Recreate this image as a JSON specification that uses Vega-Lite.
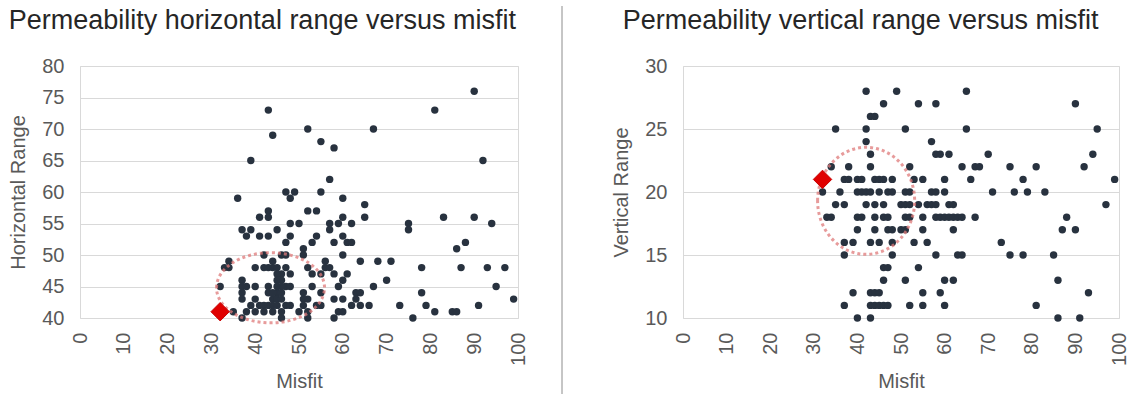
{
  "$schema": "https://vega.github.io/schema/vega-lite/v6.json",
  "background": "white",
  "padding": {"left": 8, "top": 5, "right": 5, "bottom": 0},
  "spacing": 32,
  "config": {
    "font": "Liberation Sans",
    "view": {"stroke": "#d9d9d9"},
    "axis": {
      "labelFont": "Liberation Sans", "labelFontSize": 20, "labelColor": "#595959",
      "titleFont": "Liberation Sans", "titleFontSize": 20, "titleFontWeight": "normal", "titleColor": "#595959",
      "domain": false, "ticks": false, "gridColor": "#d9d9d9",
      "labelFlush": false, "labelOverlap": false
    },
    "axisX": {"grid": false, "labelAngle": 270, "labelPadding": 14, "titlePadding": 6},
    "axisY": {"grid": true, "labelPadding": 16, "titlePadding": 13},
    "title": {"font": "Liberation Sans", "fontSize": 27, "fontWeight": "normal", "color": "#262626", "anchor": "start", "offset": 21}
  },
  "datasets": {
    "horizontal": [
      {"misfit":43,"range":73},{"misfit":44,"range":69},{"misfit":90,"range":76},{"misfit":81,"range":73},{"misfit":52,"range":70},{"misfit":67,"range":70},{"misfit":55,"range":68},{"misfit":58,"range":67},{"misfit":39,"range":65},{"misfit":92,"range":65},
      {"misfit":57,"range":62},{"misfit":36,"range":59},{"misfit":47,"range":60},{"misfit":49,"range":60},{"misfit":48,"range":59},{"misfit":55,"range":60},{"misfit":60,"range":59},{"misfit":65,"range":58},{"misfit":65,"range":56},{"misfit":43,"range":57},
      {"misfit":41,"range":56},{"misfit":43,"range":56},{"misfit":52,"range":57},{"misfit":54,"range":57},{"misfit":83,"range":56},{"misfit":90,"range":56},{"misfit":60,"range":56},{"misfit":59,"range":55},{"misfit":57,"range":55},{"misfit":57,"range":54},
      {"misfit":62,"range":55},{"misfit":75,"range":55},{"misfit":75,"range":54},{"misfit":94,"range":55},{"misfit":48,"range":55},{"misfit":50,"range":55},{"misfit":37,"range":54},{"misfit":39,"range":54},{"misfit":38,"range":53},{"misfit":41,"range":53},
      {"misfit":43,"range":53},{"misfit":45,"range":54},{"misfit":48,"range":53},{"misfit":47,"range":52},{"misfit":54,"range":53},{"misfit":53,"range":52},{"misfit":60,"range":53},{"misfit":61,"range":52},{"misfit":62,"range":52},{"misfit":58,"range":52},
      {"misfit":88,"range":52},{"misfit":86,"range":51},{"misfit":51,"range":51},{"misfit":51,"range":50},{"misfit":42,"range":50},{"misfit":46,"range":50},{"misfit":47,"range":50},{"misfit":60,"range":50},{"misfit":34,"range":49},{"misfit":33,"range":48},
      {"misfit":34,"range":48},{"misfit":40,"range":48},{"misfit":42,"range":48},{"misfit":43,"range":48},{"misfit":44,"range":48},{"misfit":44,"range":49},{"misfit":45,"range":48},{"misfit":47,"range":48},{"misfit":46,"range":47},{"misfit":48,"range":47},
      {"misfit":52,"range":48},{"misfit":53,"range":47},{"misfit":55,"range":47},{"misfit":56,"range":49},{"misfit":56,"range":48},{"misfit":57,"range":48},{"misfit":58,"range":47},{"misfit":64,"range":49},{"misfit":68,"range":49},{"misfit":71,"range":49},
      {"misfit":78,"range":48},{"misfit":87,"range":48},{"misfit":93,"range":48},{"misfit":97,"range":48},{"misfit":70,"range":46},{"misfit":67,"range":45},{"misfit":60,"range":46},{"misfit":59,"range":45},{"misfit":61,"range":47},{"misfit":95,"range":45},
      {"misfit":32,"range":45},{"misfit":37,"range":46},{"misfit":37,"range":45},{"misfit":38,"range":45},{"misfit":40,"range":45},{"misfit":43,"range":45},{"misfit":46,"range":46},{"misfit":47,"range":45},{"misfit":48,"range":45},{"misfit":46,"range":45},
      {"misfit":53,"range":45},{"misfit":55,"range":44},{"misfit":37,"range":44},{"misfit":37,"range":43},{"misfit":40,"range":43},{"misfit":43,"range":44},{"misfit":44,"range":43},{"misfit":45,"range":44},{"misfit":45,"range":43},{"misfit":46,"range":44},
      {"misfit":51,"range":44},{"misfit":51,"range":43},{"misfit":52,"range":43},{"misfit":58,"range":43},{"misfit":60,"range":43},{"misfit":63,"range":44},{"misfit":63,"range":43},{"misfit":64,"range":44},{"misfit":78,"range":44},{"misfit":99,"range":43},
      {"misfit":64,"range":42},{"misfit":62,"range":42},{"misfit":66,"range":42},{"misfit":73,"range":42},{"misfit":79,"range":42},{"misfit":91,"range":42},{"misfit":39,"range":42},{"misfit":41,"range":42},{"misfit":42,"range":42},{"misfit":43,"range":42},
      {"misfit":44,"range":42},{"misfit":45,"range":42},{"misfit":47,"range":42},{"misfit":48,"range":42},{"misfit":51,"range":42},{"misfit":54,"range":42},{"misfit":55,"range":42},{"misfit":35,"range":41},{"misfit":38,"range":41},{"misfit":40,"range":41},
      {"misfit":42,"range":41},{"misfit":44,"range":41},{"misfit":46,"range":41},{"misfit":50,"range":41},{"misfit":52,"range":41},{"misfit":59,"range":41},{"misfit":60,"range":41},{"misfit":81,"range":41},{"misfit":85,"range":41},{"misfit":86,"range":41},
      {"misfit":37,"range":40},{"misfit":46,"range":40},{"misfit":52,"range":40},{"misfit":58,"range":40},{"misfit":76,"range":40},{"misfit":45,"range":47},{"misfit":45,"range":46},{"misfit":44,"range":44},{"misfit":46,"range":43},{"misfit":45,"range":45}
    ],
    "horizontalCluster": [{"misfit": 43.5, "range": 44.8}],
    "horizontalBest": [{"misfit": 32, "range": 41}],
    "vertical": [
      {"misfit":42,"range":28},{"misfit":49,"range":28},{"misfit":65,"range":28},
      {"misfit":46,"range":27},{"misfit":54,"range":27},{"misfit":58,"range":27},{"misfit":90,"range":27},
      {"misfit":43,"range":26},{"misfit":44,"range":26},
      {"misfit":35,"range":25},{"misfit":42,"range":25},{"misfit":51,"range":25},{"misfit":65,"range":25},{"misfit":95,"range":25},
      {"misfit":42,"range":24},{"misfit":57,"range":24},
      {"misfit":43,"range":23},{"misfit":58,"range":23},{"misfit":59,"range":23},{"misfit":61,"range":23},{"misfit":70,"range":23},{"misfit":94,"range":23},
      {"misfit":34,"range":22},{"misfit":38,"range":22},{"misfit":43,"range":22},{"misfit":52,"range":22},{"misfit":64,"range":22},{"misfit":67,"range":22},{"misfit":68,"range":22},{"misfit":75,"range":22},{"misfit":81,"range":22},{"misfit":92,"range":22},
      {"misfit":37,"range":21},{"misfit":38,"range":21},{"misfit":40,"range":21},{"misfit":41,"range":21},{"misfit":44,"range":21},{"misfit":45,"range":21},{"misfit":46,"range":21},{"misfit":48,"range":21},{"misfit":53,"range":21},{"misfit":55,"range":21},{"misfit":60,"range":21},{"misfit":66,"range":21},{"misfit":78,"range":21},{"misfit":99,"range":21},
      {"misfit":32,"range":20},{"misfit":36,"range":20},{"misfit":40,"range":20},{"misfit":41,"range":20},{"misfit":42,"range":20},{"misfit":43,"range":20},{"misfit":45,"range":20},{"misfit":47,"range":20},{"misfit":48,"range":20},{"misfit":51,"range":20},{"misfit":52,"range":20},{"misfit":57,"range":20},{"misfit":58,"range":20},{"misfit":60,"range":20},{"misfit":71,"range":20},{"misfit":76,"range":20},{"misfit":79,"range":20},{"misfit":83,"range":20},
      {"misfit":35,"range":19},{"misfit":37,"range":19},{"misfit":42,"range":19},{"misfit":44,"range":19},{"misfit":46,"range":19},{"misfit":50,"range":19},{"misfit":51,"range":19},{"misfit":52,"range":19},{"misfit":54,"range":19},{"misfit":56,"range":19},{"misfit":57,"range":19},{"misfit":58,"range":19},{"misfit":61,"range":19},{"misfit":62,"range":19},{"misfit":97,"range":19},
      {"misfit":33,"range":18},{"misfit":34,"range":18},{"misfit":40,"range":18},{"misfit":41,"range":18},{"misfit":44,"range":18},{"misfit":46,"range":18},{"misfit":47,"range":18},{"misfit":51,"range":18},{"misfit":52,"range":18},{"misfit":55,"range":18},{"misfit":58,"range":18},{"misfit":59,"range":18},{"misfit":60,"range":18},{"misfit":61,"range":18},{"misfit":62,"range":18},{"misfit":63,"range":18},{"misfit":64,"range":18},{"misfit":67,"range":18},{"misfit":88,"range":18},
      {"misfit":40,"range":17},{"misfit":44,"range":17},{"misfit":47,"range":17},{"misfit":48,"range":17},{"misfit":50,"range":17},{"misfit":51,"range":17},{"misfit":55,"range":17},{"misfit":62,"range":17},{"misfit":87,"range":17},{"misfit":90,"range":17},
      {"misfit":37,"range":16},{"misfit":39,"range":16},{"misfit":43,"range":16},{"misfit":45,"range":16},{"misfit":48,"range":16},{"misfit":53,"range":16},{"misfit":56,"range":16},{"misfit":73,"range":16},
      {"misfit":37,"range":15},{"misfit":48,"range":15},{"misfit":58,"range":15},{"misfit":63,"range":15},{"misfit":64,"range":15},{"misfit":75,"range":15},{"misfit":78,"range":15},{"misfit":85,"range":15},
      {"misfit":46,"range":14},{"misfit":47,"range":14},{"misfit":54,"range":14},
      {"misfit":46,"range":13},{"misfit":51,"range":13},{"misfit":60,"range":13},{"misfit":62,"range":13},{"misfit":86,"range":13},
      {"misfit":39,"range":12},{"misfit":43,"range":12},{"misfit":44,"range":12},{"misfit":45,"range":12},{"misfit":55,"range":12},{"misfit":59,"range":12},{"misfit":93,"range":12},
      {"misfit":37,"range":11},{"misfit":43,"range":11},{"misfit":44,"range":11},{"misfit":45,"range":11},{"misfit":46,"range":11},{"misfit":47,"range":11},{"misfit":52,"range":11},{"misfit":55,"range":11},{"misfit":60,"range":11},{"misfit":81,"range":11},
      {"misfit":40,"range":10},{"misfit":43,"range":10},{"misfit":86,"range":10},{"misfit":91,"range":10}
    ],
    "verticalCluster": [{"misfit": 42, "range": 19.3}],
    "verticalBest": [{"misfit": 32, "range": 21}],
    "divider": [{"edge": 0, "top": 1.238, "bottom": -0.306}]
  },
  "hconcat": [
    {
      "title": "Permeability horizontal range versus misfit",
      "width": 438,
      "height": 252,
      "encoding": {
        "x": {"field": "misfit", "type": "quantitative", "scale": {"domain": [0, 100], "nice": false}, "axis": {"values": [0, 10, 20, 30, 40, 50, 60, 70, 80, 90, 100], "title": "Misfit"}},
        "y": {"field": "range", "type": "quantitative", "scale": {"domain": [40, 80], "nice": false, "zero": false}, "axis": {"values": [40, 45, 50, 55, 60, 65, 70, 75, 80], "title": "Horizontal Range"}}
      },
      "layer": [
        {"data": {"name": "horizontal"}, "mark": {"type": "circle", "size": 55, "color": "#28323f", "opacity": 1}},
        {"data": {"name": "horizontalCluster"}, "mark": {"type": "point", "shape": "M-1,0A1,0.65 0 1,1 1,0A1,0.65 0 1,1 -1,0Z", "size": 11664, "filled": false, "color": "#e07a7a", "strokeWidth": 3, "strokeDash": [3, 3], "opacity": 0.75}},
        {"data": {"name": "horizontalBest"}, "mark": {"type": "point", "shape": "diamond", "filled": true, "size": 340, "color": "#e00000", "stroke": "#c80000", "strokeWidth": 1, "opacity": 1}}
      ]
    },
    {
      "width": 17,
      "height": 252,
      "view": {"stroke": null},
      "data": {"name": "divider"},
      "mark": {"type": "rule", "color": "#8c8c8c", "strokeWidth": 1},
      "encoding": {
        "x": {"field": "edge", "type": "quantitative", "scale": {"domain": [0, 1]}, "axis": null},
        "y": {"field": "top", "type": "quantitative", "scale": {"domain": [0, 1], "nice": false}, "axis": null},
        "y2": {"field": "bottom"}
      }
    },
    {
      "title": {"text": "Permeability vertical range versus misfit", "dx": 11},
      "width": 436,
      "height": 252,
      "encoding": {
        "x": {"field": "misfit", "type": "quantitative", "scale": {"domain": [0, 100], "nice": false}, "axis": {"values": [0, 10, 20, 30, 40, 50, 60, 70, 80, 90, 100], "title": "Misfit"}},
        "y": {"field": "range", "type": "quantitative", "scale": {"domain": [10, 30], "nice": false, "zero": false}, "axis": {"values": [10, 15, 20, 25, 30], "title": "Vertical Range"}}
      },
      "layer": [
        {"data": {"name": "vertical"}, "mark": {"type": "circle", "size": 55, "color": "#28323f", "opacity": 1}},
        {"data": {"name": "verticalCluster"}, "mark": {"type": "point", "shape": "M-0.907,0A0.907,1 0 1,1 0.907,0A0.907,1 0 1,1 -0.907,0Z", "size": 11449, "filled": false, "color": "#e07a7a", "strokeWidth": 3, "strokeDash": [3, 3], "opacity": 0.75}},
        {"data": {"name": "verticalBest"}, "mark": {"type": "point", "shape": "diamond", "filled": true, "size": 340, "color": "#e00000", "stroke": "#c80000", "strokeWidth": 1, "opacity": 1}}
      ]
    }
  ]
}
